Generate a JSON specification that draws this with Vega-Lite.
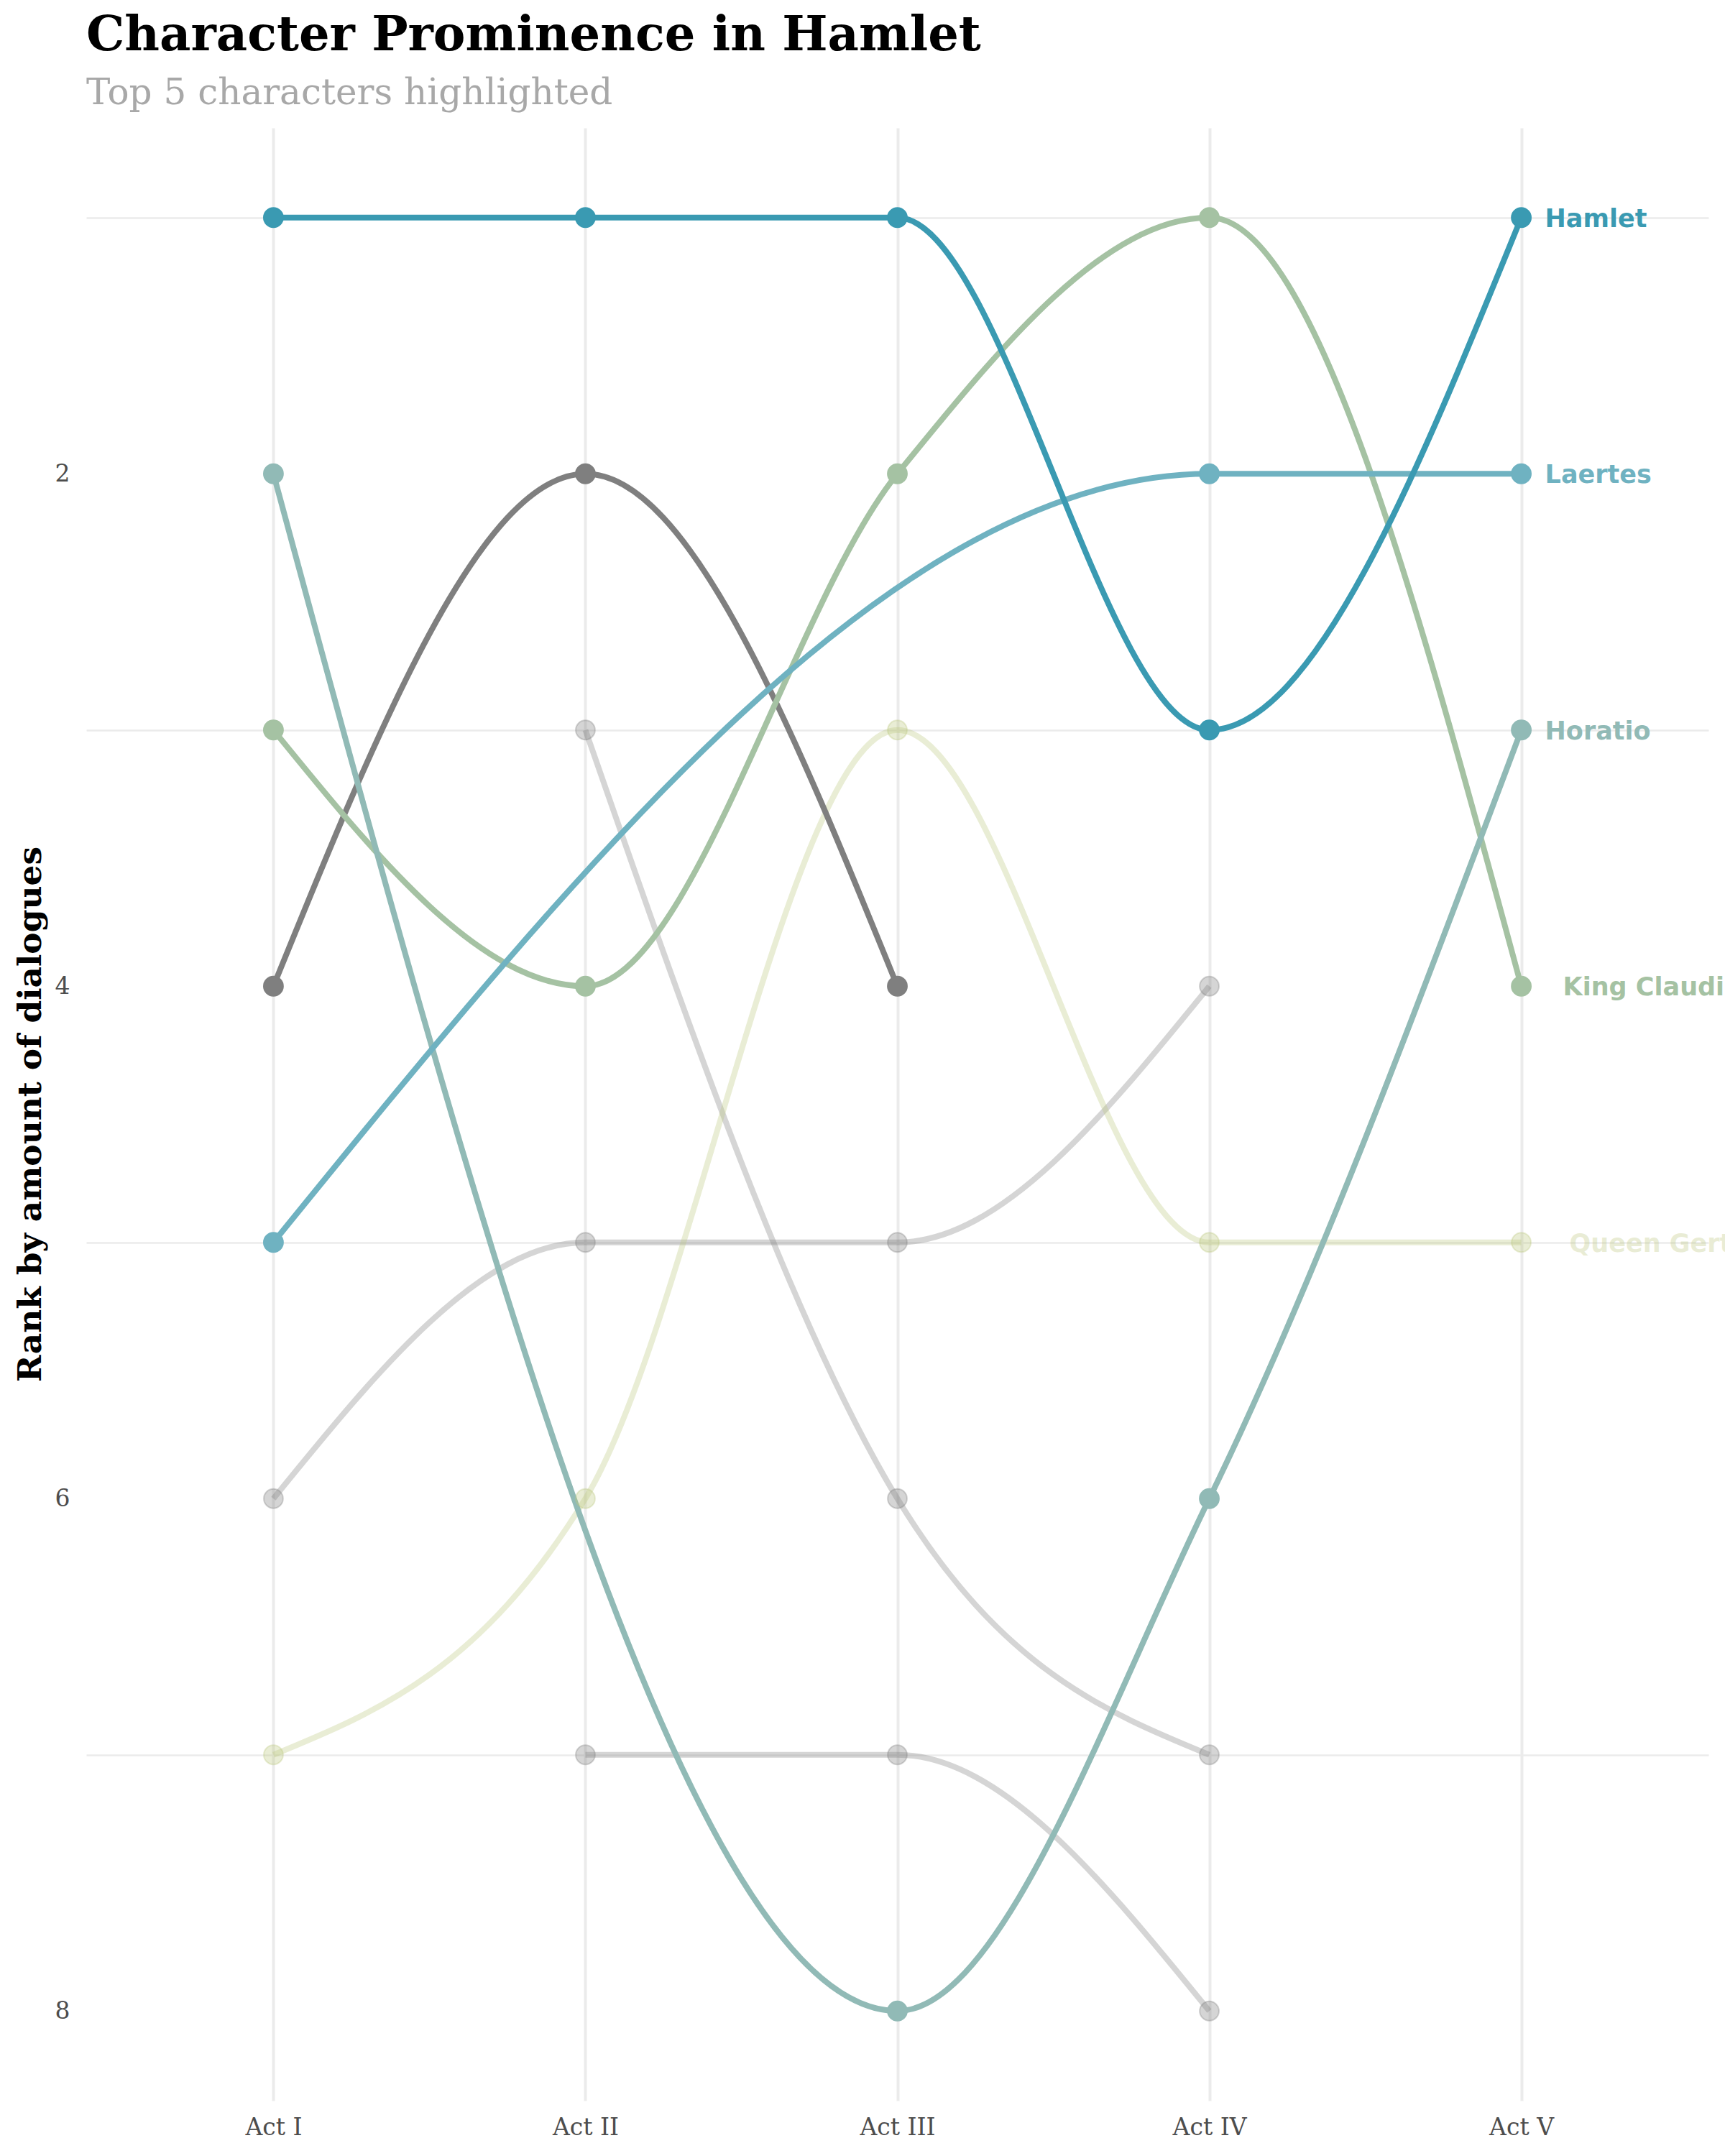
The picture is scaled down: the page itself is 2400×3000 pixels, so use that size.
{
  "$schema": "https://vega.github.io/schema/vega-lite/v6.json",
  "width": 2257,
  "height": 2745,
  "autosize": {"type": "none"},
  "padding": {"left": 120, "top": 178, "right": 23, "bottom": 77},
  "background": "white",
  "title": {
    "text": "Character Prominence in Hamlet",
    "subtitle": "Top 5 characters highlighted",
    "anchor": "start",
    "frame": "group",
    "offset": 22,
    "font": "DejaVu Serif",
    "fontSize": 67,
    "fontWeight": "bold",
    "color": "#000000",
    "subtitleFont": "DejaVu Serif",
    "subtitleFontSize": 50,
    "subtitleColor": "#a8a8a8",
    "subtitlePadding": 21
  },
  "config": {"view": {"stroke": null}},
  "data": {
    "values": [
      {"character": "Ophelia", "act": "Act I", "rank": 6},
      {"character": "Ophelia", "act": "Act II", "rank": 5},
      {"character": "Ophelia", "act": "Act III", "rank": 5},
      {"character": "Ophelia", "act": "Act IV", "rank": 4},
      {"character": "Rosencrantz", "act": "Act II", "rank": 3},
      {"character": "Rosencrantz", "act": "Act III", "rank": 6},
      {"character": "Rosencrantz", "act": "Act IV", "rank": 7},
      {"character": "Guildenstern", "act": "Act II", "rank": 7},
      {"character": "Guildenstern", "act": "Act III", "rank": 7},
      {"character": "Guildenstern", "act": "Act IV", "rank": 8},
      {"character": "Queen Gertrude", "act": "Act I", "rank": 7},
      {"character": "Queen Gertrude", "act": "Act II", "rank": 6},
      {"character": "Queen Gertrude", "act": "Act III", "rank": 3},
      {"character": "Queen Gertrude", "act": "Act IV", "rank": 5},
      {"character": "Queen Gertrude", "act": "Act V", "rank": 5},
      {"character": "Polonius", "act": "Act I", "rank": 4},
      {"character": "Polonius", "act": "Act II", "rank": 2},
      {"character": "Polonius", "act": "Act III", "rank": 4},
      {"character": "King Claudius", "act": "Act I", "rank": 3},
      {"character": "King Claudius", "act": "Act II", "rank": 4},
      {"character": "King Claudius", "act": "Act III", "rank": 2},
      {"character": "King Claudius", "act": "Act IV", "rank": 1},
      {"character": "King Claudius", "act": "Act V", "rank": 4},
      {"character": "Horatio", "act": "Act I", "rank": 2},
      {"character": "Horatio", "act": "Act III", "rank": 8},
      {"character": "Horatio", "act": "Act IV", "rank": 6},
      {"character": "Horatio", "act": "Act V", "rank": 3},
      {"character": "Laertes", "act": "Act I", "rank": 5},
      {"character": "Laertes", "act": "Act IV", "rank": 2},
      {"character": "Laertes", "act": "Act V", "rank": 2},
      {"character": "Hamlet", "act": "Act I", "rank": 1},
      {"character": "Hamlet", "act": "Act II", "rank": 1},
      {"character": "Hamlet", "act": "Act III", "rank": 1},
      {"character": "Hamlet", "act": "Act IV", "rank": 3},
      {"character": "Hamlet", "act": "Act V", "rank": 1}
    ]
  },
  "encoding": {
    "x": {
      "field": "act",
      "type": "ordinal",
      "scale": {"type": "point", "domain": ["Act I", "Act II", "Act III", "Act IV", "Act V"], "padding": 0.6},
      "axis": {
        "title": null,
        "orient": "bottom",
        "domain": false,
        "ticks": false,
        "tickSize": 0,
        "labelPadding": 21,
        "labelAngle": 0,
        "labelFont": "DejaVu Serif",
        "labelFontSize": 33,
        "labelColor": "#4d4d4d",
        "grid": true,
        "gridColor": "#ebebeb",
        "gridWidth": 4
      }
    },
    "y": {
      "field": "rank",
      "type": "quantitative",
      "scale": {"domain": [0.65, 8.35], "reverse": true, "nice": false, "zero": false},
      "axis": {
        "title": "Rank by amount of dialogues",
        "titleFont": "DejaVu Serif",
        "titleFontSize": 45.5,
        "titleFontWeight": "bold",
        "titleColor": "#000000",
        "titleAngle": -90,
        "titleX": -64,
        "titleY": 1372,
        "titleAlign": "center",
        "titleBaseline": "alphabetic",
        "values": [1, 2, 3, 4, 5, 6, 7, 8],
        "labelExpr": "datum.value % 2 == 0 ? datum.label : ''",
        "domain": false,
        "ticks": false,
        "tickSize": 0,
        "labelPadding": 23,
        "labelFont": "DejaVu Serif",
        "labelFontSize": 33,
        "labelColor": "#4d4d4d",
        "grid": true,
        "gridColor": "#ebebeb",
        "gridWidth": 2.5,
        "gridOpacity": {"condition": {"test": "datum.value % 2 == 1", "value": 1}, "value": 0}
      }
    }
  },
  "layer": [
    {
      "mark": {"type": "line", "interpolate": "monotone", "strokeWidth": 8},
      "encoding": {
        "color": {
          "field": "character",
          "type": "nominal",
          "scale": {
            "domain": ["Hamlet", "Laertes", "Horatio", "King Claudius", "Queen Gertrude", "Polonius", "Ophelia", "Rosencrantz", "Guildenstern"],
            "range": ["#3A9AB2", "#6FB2C1", "#91BAB6", "#A5C2A3", "#BDC881", "#7F7F7F", "#7F7F7F", "#7F7F7F", "#7F7F7F"]
          },
          "legend": null
        },
        "opacity": {
          "condition": {"test": "indexof(['Hamlet','Laertes','Horatio','King Claudius','Polonius'], datum.character) >= 0", "value": 1},
          "value": 0.33
        }
      }
    },
    {
      "mark": {"type": "circle", "size": 720, "strokeWidth": 2, "opacity": 1},
      "encoding": {
        "color": {
          "field": "character",
          "type": "nominal",
          "scale": {
            "domain": ["Hamlet", "Laertes", "Horatio", "King Claudius", "Queen Gertrude", "Polonius", "Ophelia", "Rosencrantz", "Guildenstern"],
            "range": ["#3A9AB2", "#6FB2C1", "#91BAB6", "#A5C2A3", "#BDC881", "#7F7F7F", "#7F7F7F", "#7F7F7F", "#7F7F7F"]
          },
          "legend": null
        },
        "stroke": {
          "field": "character",
          "type": "nominal",
          "scale": {
            "domain": ["Hamlet", "Laertes", "Horatio", "King Claudius", "Queen Gertrude", "Polonius", "Ophelia", "Rosencrantz", "Guildenstern"],
            "range": ["#3A9AB2", "#6FB2C1", "#91BAB6", "#A5C2A3", "#BDC881", "#7F7F7F", "#7F7F7F", "#7F7F7F", "#7F7F7F"]
          },
          "legend": null
        },
        "fillOpacity": {
          "condition": {"test": "indexof(['Hamlet','Laertes','Horatio','King Claudius','Polonius'], datum.character) >= 0", "value": 1},
          "value": 0.33
        },
        "strokeOpacity": {
          "condition": {"test": "indexof(['Hamlet','Laertes','Horatio','King Claudius','Polonius'], datum.character) >= 0", "value": 1},
          "value": 0.33
        }
      }
    },
    {
      "transform": [{"filter": "datum.act == 'Act V' && (datum.character == 'Hamlet' || datum.character == 'Laertes' || datum.character == 'Horatio')"}],
      "mark": {"type": "text", "align": "left", "baseline": "middle", "dx": 33, "dy": 2, "font": "DejaVu Sans", "fontSize": 35, "fontWeight": "bold"},
      "encoding": {
        "text": {"field": "character"},
        "color": {
          "field": "character",
          "type": "nominal",
          "scale": {
            "domain": ["Hamlet", "Laertes", "Horatio", "King Claudius", "Queen Gertrude", "Polonius", "Ophelia", "Rosencrantz", "Guildenstern"],
            "range": ["#3A9AB2", "#6FB2C1", "#91BAB6", "#A5C2A3", "#BDC881", "#7F7F7F", "#7F7F7F", "#7F7F7F", "#7F7F7F"]
          },
          "legend": null
        }
      }
    },
    {
      "transform": [{"filter": "datum.act == 'Act V' && datum.character == 'King Claudius'"}],
      "mark": {"type": "text", "align": "left", "baseline": "middle", "dx": 58, "dy": 2, "font": "DejaVu Sans", "fontSize": 35, "fontWeight": "bold"},
      "encoding": {
        "text": {"field": "character"},
        "color": {
          "field": "character",
          "type": "nominal",
          "scale": {
            "domain": ["Hamlet", "Laertes", "Horatio", "King Claudius", "Queen Gertrude", "Polonius", "Ophelia", "Rosencrantz", "Guildenstern"],
            "range": ["#3A9AB2", "#6FB2C1", "#91BAB6", "#A5C2A3", "#BDC881", "#7F7F7F", "#7F7F7F", "#7F7F7F", "#7F7F7F"]
          },
          "legend": null
        }
      }
    },
    {
      "transform": [{"filter": "datum.act == 'Act V' && datum.character == 'Queen Gertrude'"}],
      "mark": {"type": "text", "align": "left", "baseline": "middle", "dx": 67, "dy": 2, "font": "DejaVu Sans", "fontSize": 35, "fontWeight": "bold", "opacity": 0.33},
      "encoding": {
        "text": {"field": "character"},
        "color": {
          "field": "character",
          "type": "nominal",
          "scale": {
            "domain": ["Hamlet", "Laertes", "Horatio", "King Claudius", "Queen Gertrude", "Polonius", "Ophelia", "Rosencrantz", "Guildenstern"],
            "range": ["#3A9AB2", "#6FB2C1", "#91BAB6", "#A5C2A3", "#BDC881", "#7F7F7F", "#7F7F7F", "#7F7F7F", "#7F7F7F"]
          },
          "legend": null
        }
      }
    }
  ]
}
